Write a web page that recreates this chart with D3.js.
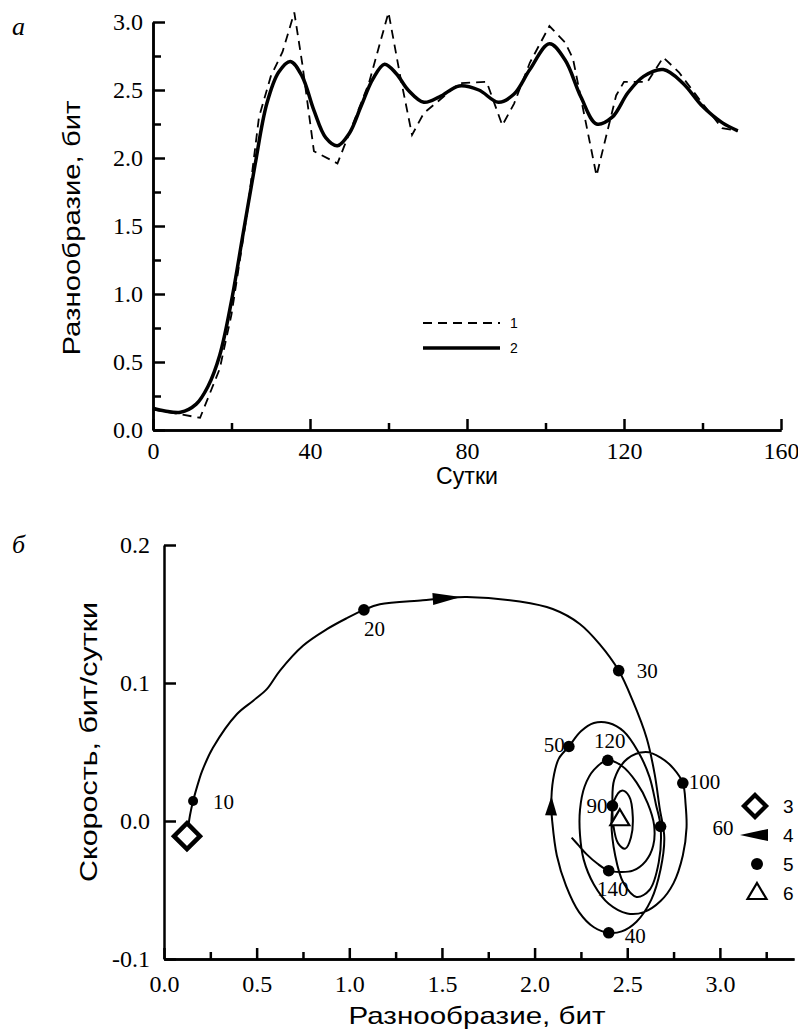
<!DOCTYPE html>
<html>
<head>
<meta charset="utf-8">
<script src="https://cdn.jsdelivr.net/npm/d3@7"></script>
<style>
body { margin: 0; background: #fff; }
svg { display: block; }
.serif { font-family: "Liberation Serif", "Times New Roman", Times, serif; }
.sans { font-family: "Liberation Sans", Arial, Helvetica, sans-serif; }
</style>
</head>
<body>
<div id="chart"></div>
<script>
// ---- data: panel a (diversity vs days) ----
var rawDays = [0, 6, 12, 17, 20, 24, 27, 30, 33, 36, 38, 41, 47, 55, 60, 63, 66, 69, 74, 78, 85, 89, 92, 96, 101, 105, 107, 113, 118, 120, 126, 130, 134, 140, 145, 149];
var rawDiv  = [0.15, 0.12, 0.09, 0.45, 0.85, 1.6, 2.3, 2.6, 2.78, 3.07, 2.7, 2.05, 1.96, 2.55, 3.07, 2.6, 2.17, 2.33, 2.45, 2.55, 2.56, 2.24, 2.4, 2.7, 2.97, 2.85, 2.73, 1.87, 2.46, 2.56, 2.56, 2.74, 2.63, 2.4, 2.22, 2.2];

var smoothDays = [0, 3, 7, 11, 14, 17, 20, 23, 26, 29, 32, 35, 38, 41, 44, 47, 50, 53, 56, 59, 62, 65, 69, 73, 78, 83, 88, 92, 96, 101, 105, 109, 113, 117, 121, 125, 130, 135, 140, 145, 149];
var smoothDiv  = [0.16, 0.14, 0.13, 0.19, 0.32, 0.55, 0.95, 1.45, 1.95, 2.4, 2.63, 2.71, 2.6, 2.35, 2.15, 2.09, 2.18, 2.38, 2.58, 2.69, 2.62, 2.5, 2.41, 2.45, 2.53, 2.5, 2.41, 2.47, 2.65, 2.84, 2.72, 2.45, 2.25, 2.3, 2.48, 2.6, 2.65, 2.55, 2.38, 2.26, 2.2];

var topXTicks = [0, 40, 80, 120, 160];
var topXMinor = [20, 60, 100, 140];
var topYTicks = [0, 0.5, 1.0, 1.5, 2.0, 2.5, 3.0];
var topYMinor = [0.25, 0.75, 1.25, 1.75, 2.25, 2.75];
var topLegend = ["1", "2"];

// ---- data: panel b (phase trajectory) ----
var trajH = [0.124, 0.14, 0.157, 0.19, 0.205, 0.264, 0.394, 0.48, 0.556, 0.626, 0.75, 0.879, 0.987, 1.079, 1.165, 1.397, 1.526, 1.634, 1.92, 2.098, 2.244, 2.352, 2.454, 2.53, 2.605, 2.648, 2.675, 2.70,
  2.68, 2.63, 2.55, 2.47, 2.40, 2.32, 2.24, 2.17, 2.12, 2.095, 2.09, 2.10, 2.13, 2.185, 2.25, 2.32, 2.40, 2.48, 2.56, 2.62, 2.655, 2.68,
  2.67, 2.62, 2.55, 2.48, 2.435, 2.415, 2.43, 2.47, 2.51, 2.53, 2.52, 2.49, 2.45, 2.425, 2.42,
  2.43, 2.50, 2.60, 2.68, 2.75, 2.80, 2.815, 2.82, 2.80, 2.75, 2.68, 2.59, 2.50, 2.40, 2.32, 2.265, 2.245, 2.245, 2.27, 2.32, 2.395,
  2.47, 2.55, 2.61, 2.645, 2.64, 2.60, 2.53, 2.46, 2.40, 2.34, 2.28, 2.24, 2.20];
var trajV = [-0.011, 0.004, 0.0145, 0.030, 0.036, 0.053, 0.0775, 0.087, 0.0957, 0.109, 0.127, 0.139, 0.147, 0.153, 0.157, 0.160, 0.1616, 0.1623, 0.159, 0.1536, 0.1428, 0.128, 0.109, 0.087, 0.060, 0.034, 0.0094, -0.012,
  -0.035, -0.057, -0.073, -0.080, -0.081, -0.077, -0.066, -0.047, -0.025, 0.0, 0.011, 0.030, 0.045, 0.054, 0.065, 0.071, 0.071, 0.065, 0.050, 0.032, 0.012, -0.004,
  -0.030, -0.050, -0.055, -0.045, -0.025, 0.0, 0.015, 0.022, 0.018, 0.003, -0.012, -0.020, -0.016, -0.003, 0.011,
  0.030, 0.045, 0.050, 0.046, 0.038, 0.0275, 0.012, -0.005, -0.025, -0.045, -0.058, -0.066, -0.067, -0.060, -0.046, -0.028, -0.010, 0.008, 0.025, 0.037, 0.044,
  0.040, 0.028, 0.013, -0.003, -0.018, -0.029, -0.036, -0.037, -0.036, -0.031, -0.024, -0.018, -0.012];

var markDays = [10, 20, 30, 40, 50, 60, 90, 100, 120, 140];
var markH = [0.157, 1.079, 2.454, 2.40, 2.185, 2.68, 2.42, 2.80, 2.395, 2.40];
var markV = [0.0145, 0.153, 0.109, -0.081, 0.054, -0.004, 0.011, 0.0275, 0.044, -0.036];

var startH = 0.124, startV = -0.011;   // day 0
var centreH = 2.46, centreV = 0.002;   // centre of attraction
var arrowIdx = [16, 38];               // trajectory points carrying direction arrows

var botXTicks = [0, 0.5, 1.0, 1.5, 2.0, 2.5, 3.0];
var botXMinor = [0.25, 0.75, 1.25, 1.75, 2.25, 2.75, 3.25];
var botYTicks = [-0.1, 0, 0.1, 0.2];
var botLegend = ["3", "4", "5", "6"];

// ---- layout ----
var W = 798, H = 1034;

var svg = d3.select("#chart").append("svg").attr("width", W).attr("height", H);

// label offsets for the day markers (dx, dy, anchor)
var labelPos = {
  10: [20, 8, "start"], 20: [0, 26, "start"], 30: [18, 7, "start"], 40: [16, 10, "start"],
  50: [-4, 6, "end"], 60: [52, 8, "start"], 90: [-5, 7, "end"], 100: [6, 6, "start"],
  120: [2, -12, "middle"], 140: [4, 25, "middle"]
};

function drawAxes(g, x, y, xt, xm, yt, ym, xfmt, yfmt, xpad, ypad) {
  var ax = d3.axisBottom(x).tickValues(xt).tickSizeInner(-11).tickSizeOuter(0).tickPadding(xpad).tickFormat(xfmt);
  var axm = d3.axisBottom(x).tickValues(xm).tickSizeInner(-7).tickSizeOuter(0).tickFormat("");
  var ay = d3.axisLeft(y).tickValues(yt).tickSizeInner(-12).tickSizeOuter(0).tickPadding(ypad).tickFormat(yfmt);
  var base = y.range()[0], left = x.range()[0];

  g.append("g").attr("transform", "translate(0," + base + ")").call(axm);
  g.append("g").attr("transform", "translate(0," + base + ")").call(ax);
  if (ym) {
    var aym = d3.axisLeft(y).tickValues(ym).tickSizeInner(-8).tickSizeOuter(0).tickFormat("");
    g.append("g").attr("transform", "translate(" + left + ",0)").call(aym);
  }
  g.append("g").attr("transform", "translate(" + left + ",0)").call(ay);

  g.selectAll(".domain, .tick line").attr("stroke", "#000").attr("stroke-width", 2.5);
  g.selectAll(".tick text").attr("class", "serif").attr("fill", "#000")
    .style("font-family", '"Liberation Serif", "Times New Roman", serif').style("font-size", "24px");
}

// ===== panel a =====
var xa = d3.scaleLinear().domain([0, 160]).range([153, 781]);
var ya = d3.scaleLinear().domain([0, 3]).range([430, 22]);
var ga = svg.append("g");

drawAxes(ga, xa, ya, topXTicks, topXMinor, topYTicks, topYMinor,
  d3.format("d"), function(d){ return d.toFixed(1); }, 12, 10);

var lineRaw = d3.line().x(function(d, i){ return xa(rawDays[i]); }).y(function(d){ return ya(d); });
var lineSmooth = d3.line().curve(d3.curveCatmullRom.alpha(0.5))
  .x(function(d, i){ return xa(smoothDays[i]); }).y(function(d){ return ya(d); });

ga.append("path").datum(rawDiv).attr("d", lineRaw)
  .attr("fill", "none").attr("stroke", "#000").attr("stroke-width", 1.8).attr("stroke-dasharray", "9,6");
ga.append("path").datum(smoothDiv).attr("d", lineSmooth)
  .attr("fill", "none").attr("stroke", "#000").attr("stroke-width", 3.5).attr("stroke-linejoin", "round");

// legend a
var lga = ga.selectAll(".lg").data(topLegend).enter().append("g")
  .attr("transform", function(d, i){ return "translate(423," + (323 + i * 25) + ")"; });
lga.append("line").attr("x1", 0).attr("x2", 77).attr("stroke", "#000")
  .attr("stroke-width", function(d, i){ return i ? 3.5 : 1.8; })
  .attr("stroke-dasharray", function(d, i){ return i ? null : "9,6"; });
lga.append("text").attr("class", "sans").attr("x", 87).attr("y", 5).attr("fill", "#000")
  .style("font-size", "14px").text(function(d){ return d; });

// titles a
svg.append("text").attr("class", "sans").attr("x", 467).attr("y", 484).attr("text-anchor", "middle")
  .style("font-size", "23px").attr("textLength", 62).attr("lengthAdjust", "spacingAndGlyphs")
  .text("Сутки");
svg.append("text").attr("class", "sans").attr("transform", "translate(80,228) rotate(-90)").attr("text-anchor", "middle")
  .style("font-size", "24px").attr("textLength", 255).attr("lengthAdjust", "spacingAndGlyphs")
  .text("Разнообразие, бит");
svg.append("text").attr("class", "serif").attr("x", 12).attr("y", 35).style("font-style", "italic")
  .style("font-size", "26px").text("а");

// ===== panel b =====
var xb = d3.scaleLinear().domain([0, 3.4]).range([164, 794]);
var yb = d3.scaleLinear().domain([-0.1, 0.2]).range([959, 545]);
var gb = svg.append("g");

drawAxes(gb, xb, yb, botXTicks, botXMinor, botYTicks, null,
  function(d){ return d.toFixed(1); }, function(d){ return d.toFixed(1); }, 16, 14);

var lineTraj = d3.line().curve(d3.curveCatmullRom.alpha(0.5))
  .x(function(d, i){ return xb(trajH[i]); }).y(function(d){ return yb(d); });
gb.append("path").datum(trajV).attr("d", lineTraj)
  .attr("fill", "none").attr("stroke", "#000").attr("stroke-width", 2).attr("stroke-linejoin", "round");

// direction arrows
var arrowLen = [28, 19];
arrowIdx.forEach(function(k, j){
  var px = xb(trajH[k]), py = yb(trajV[k]);
  var ang = Math.atan2(yb(trajV[k + 1]) - yb(trajV[k - 1]), xb(trajH[k + 1]) - xb(trajH[k - 1])) * 180 / Math.PI;
  var L = arrowLen[j];
  gb.append("path").attr("d", "M" + (L / 2) + ",0L" + (-L / 2) + ",-6L" + (-L / 2) + ",6Z")
    .attr("transform", "translate(" + px + "," + py + ") rotate(" + ang + ")").attr("fill", "#000");
});

// start diamond
var diamond = "M0,-13L13,0L0,13L-13,0Z";
gb.append("path").attr("d", diamond).attr("transform", "translate(" + xb(startH) + "," + yb(startV) + ")")
  .attr("fill", "#fff").attr("stroke", "#000").attr("stroke-width", 4.5);

// centre triangle
var tri = "M0,-9L9.5,7L-9.5,7Z";
gb.append("path").attr("d", tri).attr("transform", "translate(" + xb(centreH) + "," + yb(centreV) + ")")
  .attr("fill", "#fff").attr("stroke", "#000").attr("stroke-width", 2.2);

// day markers
gb.selectAll(".mk").data(markDays).enter().append("circle")
  .attr("cx", function(d, i){ return xb(markH[i]); })
  .attr("cy", function(d, i){ return yb(markV[i]); })
  .attr("r", function(d){ return d === 10 ? 5 : 5.8; }).attr("fill", "#000");
gb.selectAll(".ml").data(markDays).enter().append("text").attr("class", "serif")
  .attr("x", function(d, i){ return xb(markH[i]) + labelPos[d][0]; })
  .attr("y", function(d, i){ return yb(markV[i]) + labelPos[d][1]; })
  .attr("text-anchor", function(d){ return labelPos[d][2]; })
  .attr("fill", "#000").style("font-size", "21px").text(function(d){ return d; });

// legend b
var lgb = gb.selectAll(".lgb").data(botLegend).enter().append("g")
  .attr("transform", function(d, i){ return "translate(755," + (806 + i * 29) + ")"; });
lgb.append("text").attr("class", "sans").attr("x", 28).attr("y", 7).attr("fill", "#000")
  .style("font-size", "19px").text(function(d){ return d; });
lgb.each(function(d, i){
  var s = d3.select(this);
  if (i === 0) s.append("path").attr("d", diamond).attr("transform", "scale(0.85)")
    .attr("fill", "#fff").attr("stroke", "#000").attr("stroke-width", 5);
  if (i === 1) s.append("path").attr("d", "M-15,0L13,-6L13,6Z").attr("fill", "#000");
  if (i === 2) s.append("circle").attr("r", 6).attr("cx", 2).attr("fill", "#000");
  if (i === 3) s.append("path").attr("d", tri).attr("transform", "translate(2,-1)")
    .attr("fill", "#fff").attr("stroke", "#000").attr("stroke-width", 2.2);
});

// titles b
svg.append("text").attr("class", "sans").attr("x", 477).attr("y", 1024).attr("text-anchor", "middle")
  .style("font-size", "24px").attr("textLength", 257).attr("lengthAdjust", "spacingAndGlyphs")
  .text("Разнообразие, бит");
svg.append("text").attr("class", "sans").attr("transform", "translate(97,742) rotate(-90)").attr("text-anchor", "middle")
  .style("font-size", "24px").attr("textLength", 280).attr("lengthAdjust", "spacingAndGlyphs")
  .text("Скорость, бит/сутки");
svg.append("text").attr("class", "serif").attr("x", 12).attr("y", 553).style("font-style", "italic")
  .style("font-size", "26px").text("б");
</script>
</body>
</html>
